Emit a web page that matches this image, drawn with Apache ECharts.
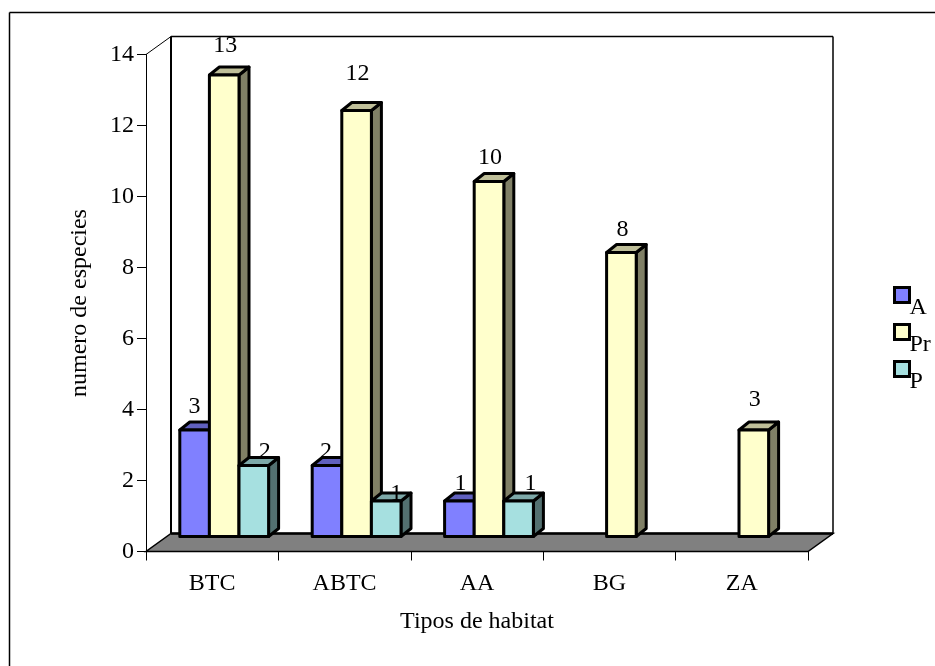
<!DOCTYPE html>
<html>
<head>
<meta charset="utf-8">
<style>html,body{margin:0;padding:0;background:#fff}#c{width:935px;height:666px}</style>
<script src="https://cdn.jsdelivr.net/npm/echarts@6/dist/echarts.min.js"></script>
</head>
<body>
<div id="c"></div>
<script>
const categories = ['BTC', 'ABTC', 'AA', 'BG', 'ZA'];
const valuesA = [3, 2, 1, null, null];
const valuesPr = [13, 12, 10, 8, 3];
const valuesP = [2, 1, 1, null, null];
const yTicks = { min: 0, max: 14, interval: 2 };

// Hand-placed label nudges of the original (pixels above bar top, per bar)
const labelLiftA = [23, 14, 17, 0, 0];
const labelLiftPr = [29, 37, 24, 23, 30];
const labelLiftP = [14, 7, 17, 0, 0];
const labelShiftA = [0, -1, 1, 0, 0];
const labelShiftPr = [1, 1, 1, 1, 1];
const labelShiftP = [11, 10, 12, 0, 0];

const FONT = '"Liberation Serif","Times New Roman",serif';
const FS = 24;
const WALL = { dx: 25, dy: -18 };
const BAR = { shiftX: 12, shiftY: -15, width: 29.6, dx: 10, dy: -8 };

function chrome(params, api) {
  const r = params.coordSys;
  const x0 = r.x, x1 = r.x + r.width, yT = r.y, yB = r.y + r.height;
  const bx0 = x0 + WALL.dx, bx1 = x1 + WALL.dx, byT = yT + WALL.dy, byB = yB + WALL.dy;
  const line = (a, b, c, d, w) => ({
    type: 'line', shape: { x1: a, y1: b, x2: c, y2: d },
    style: { stroke: '#000', lineWidth: w || 1.5 }
  });
  return {
    type: 'group',
    children: [
      { type: 'polygon', shape: { points: [[x0, yB], [x1, yB], [bx1, byB], [bx0, byB]] },
        style: { fill: '#808080', stroke: '#000', lineWidth: 1.5 } },
      line(bx0, byB, bx1, byB, 2.5),
      line(x0, yT, bx0, byT, 1),
      line(bx0, byT, bx1, byT, 1.5),
      line(bx0, byT, bx0, byB, 2),
      line(bx1, byT, bx1, byB, 1.5)
    ]
  };
}

function barRenderer(slot, lift, shift, faces) {
  return function (params, api) {
    const cat = api.value(0), val = api.value(1);
    const centre = api.coord([cat, 0])[0] + BAR.shiftX;
    const x0 = centre + (slot - 1.5) * BAR.width;
    const x1 = x0 + BAR.width;
    const yB = api.coord([cat, 0])[1] + BAR.shiftY;
    const yT = api.coord([cat, val])[1] + BAR.shiftY;
    const stroke = { stroke: '#000', lineWidth: 3, lineJoin: 'round' };
    return {
      type: 'group',
      children: [
        { type: 'polygon', shape: { points: [[x1, yB], [x1 + BAR.dx, yB + BAR.dy], [x1 + BAR.dx, yT + BAR.dy], [x1, yT]] },
          style: Object.assign({ fill: faces.side }, stroke) },
        { type: 'polygon', shape: { points: [[x0, yT], [x0 + BAR.dx, yT + BAR.dy], [x1 + BAR.dx, yT + BAR.dy], [x1, yT]] },
          style: Object.assign({ fill: faces.top }, stroke) },
        { type: 'rect', shape: { x: x0, y: yT, width: BAR.width, height: yB - yT },
          style: Object.assign({ fill: faces.front }, stroke) },
        { type: 'text', z2: 10, style: {
            x: (x0 + x1) / 2 + shift[cat], y: yT - lift[cat],
            text: String(val), fill: '#000', font: FS + 'px ' + FONT,
            textAlign: 'center', textVerticalAlign: 'middle' } }
      ]
    };
  };
}

function toData(values) {
  return values.map((v, i) => [i, v]).filter(d => d[1] !== null);
}

function barSeries(name, values, slot, lift, shift, faces) {
  return {
    name, type: 'custom', coordinateSystem: 'cartesian2d', clip: false,
    itemStyle: { color: faces.front },
    encode: { x: 0, y: 1 },
    data: toData(values),
    renderItem: barRenderer(slot, lift, shift, faces)
  };
}

const chart = echarts.init(document.getElementById('c'), null, { renderer: 'canvas' });
chart.setOption({
  animation: false,
  backgroundColor: '#fff',
  textStyle: { fontFamily: FONT },
  grid: { left: 146, right: 127, top: 54.5, bottom: 114.5, containLabel: false },
  xAxis: {
    type: 'category', data: categories,
    name: 'Tipos de habitat', nameLocation: 'middle', nameGap: 58,
    nameTextStyle: { fontFamily: FONT, fontSize: FS, color: '#000' },
    axisLine: { show: true, lineStyle: { color: '#000', width: 1 } },
    axisTick: { show: true, length: 9, lineStyle: { color: '#000', width: 1 } },
    axisLabel: { fontFamily: FONT, fontSize: FS, color: '#000', margin: 20 },
    splitLine: { show: false }
  },
  yAxis: {
    type: 'value', min: yTicks.min, max: yTicks.max, interval: yTicks.interval,
    name: 'numero de especies', nameLocation: 'middle', nameGap: 54, nameRotate: 90,
    nameTextStyle: { fontFamily: FONT, fontSize: FS, color: '#000' },
    axisLine: { show: true, lineStyle: { color: '#000', width: 1 } },
    axisTick: { show: true, length: 9, lineStyle: { color: '#000', width: 1 } },
    axisLabel: { fontFamily: FONT, fontSize: FS, color: '#000', margin: 12, padding: [2, 0, 0, 0] },
    splitLine: { show: false }
  },
  legend: {
    orient: 'vertical', left: 888, top: 281, itemWidth: 15, itemHeight: 15, itemGap: 3,
    selectedMode: false, icon: 'rect',
    data: ['A', 'Pr', 'P'],
    itemStyle: { borderColor: '#000', borderWidth: 3 },
    formatter: '{t|{name}}',
    textStyle: {
      fontFamily: FONT, fontSize: FS, color: '#000',
      rich: { t: { fontFamily: FONT, fontSize: FS, color: '#000', padding: [26, 0, 0, -5] } }
    }
  },
  graphic: [
    { type: 'line', silent: true, shape: { x1: 9.5, y1: 12.5, x2: 935, y2: 12.5 }, style: { stroke: '#000', lineWidth: 1.5 } },
    { type: 'line', silent: true, shape: { x1: 9.5, y1: 12.5, x2: 9.5, y2: 666 }, style: { stroke: '#000', lineWidth: 1.5 } }
  ],
  series: [
    { type: 'custom', name: 'chrome', coordinateSystem: 'cartesian2d', clip: false, silent: true,
      data: [[0, 0]], renderItem: chrome, z: 1 },
    barSeries('A', valuesA, 0, labelLiftA, labelShiftA, { front: '#8080FF', top: '#6060BF', side: '#404080' }),
    barSeries('Pr', valuesPr, 1, labelLiftPr, labelShiftPr, { front: '#FFFFCC', top: '#BFBF99', side: '#808066' }),
    barSeries('P', valuesP, 2, labelLiftP, labelShiftP, { front: '#A6E0E0', top: '#7DA8A8', side: '#537070' })
  ]
});
</script>
</body>
</html>
